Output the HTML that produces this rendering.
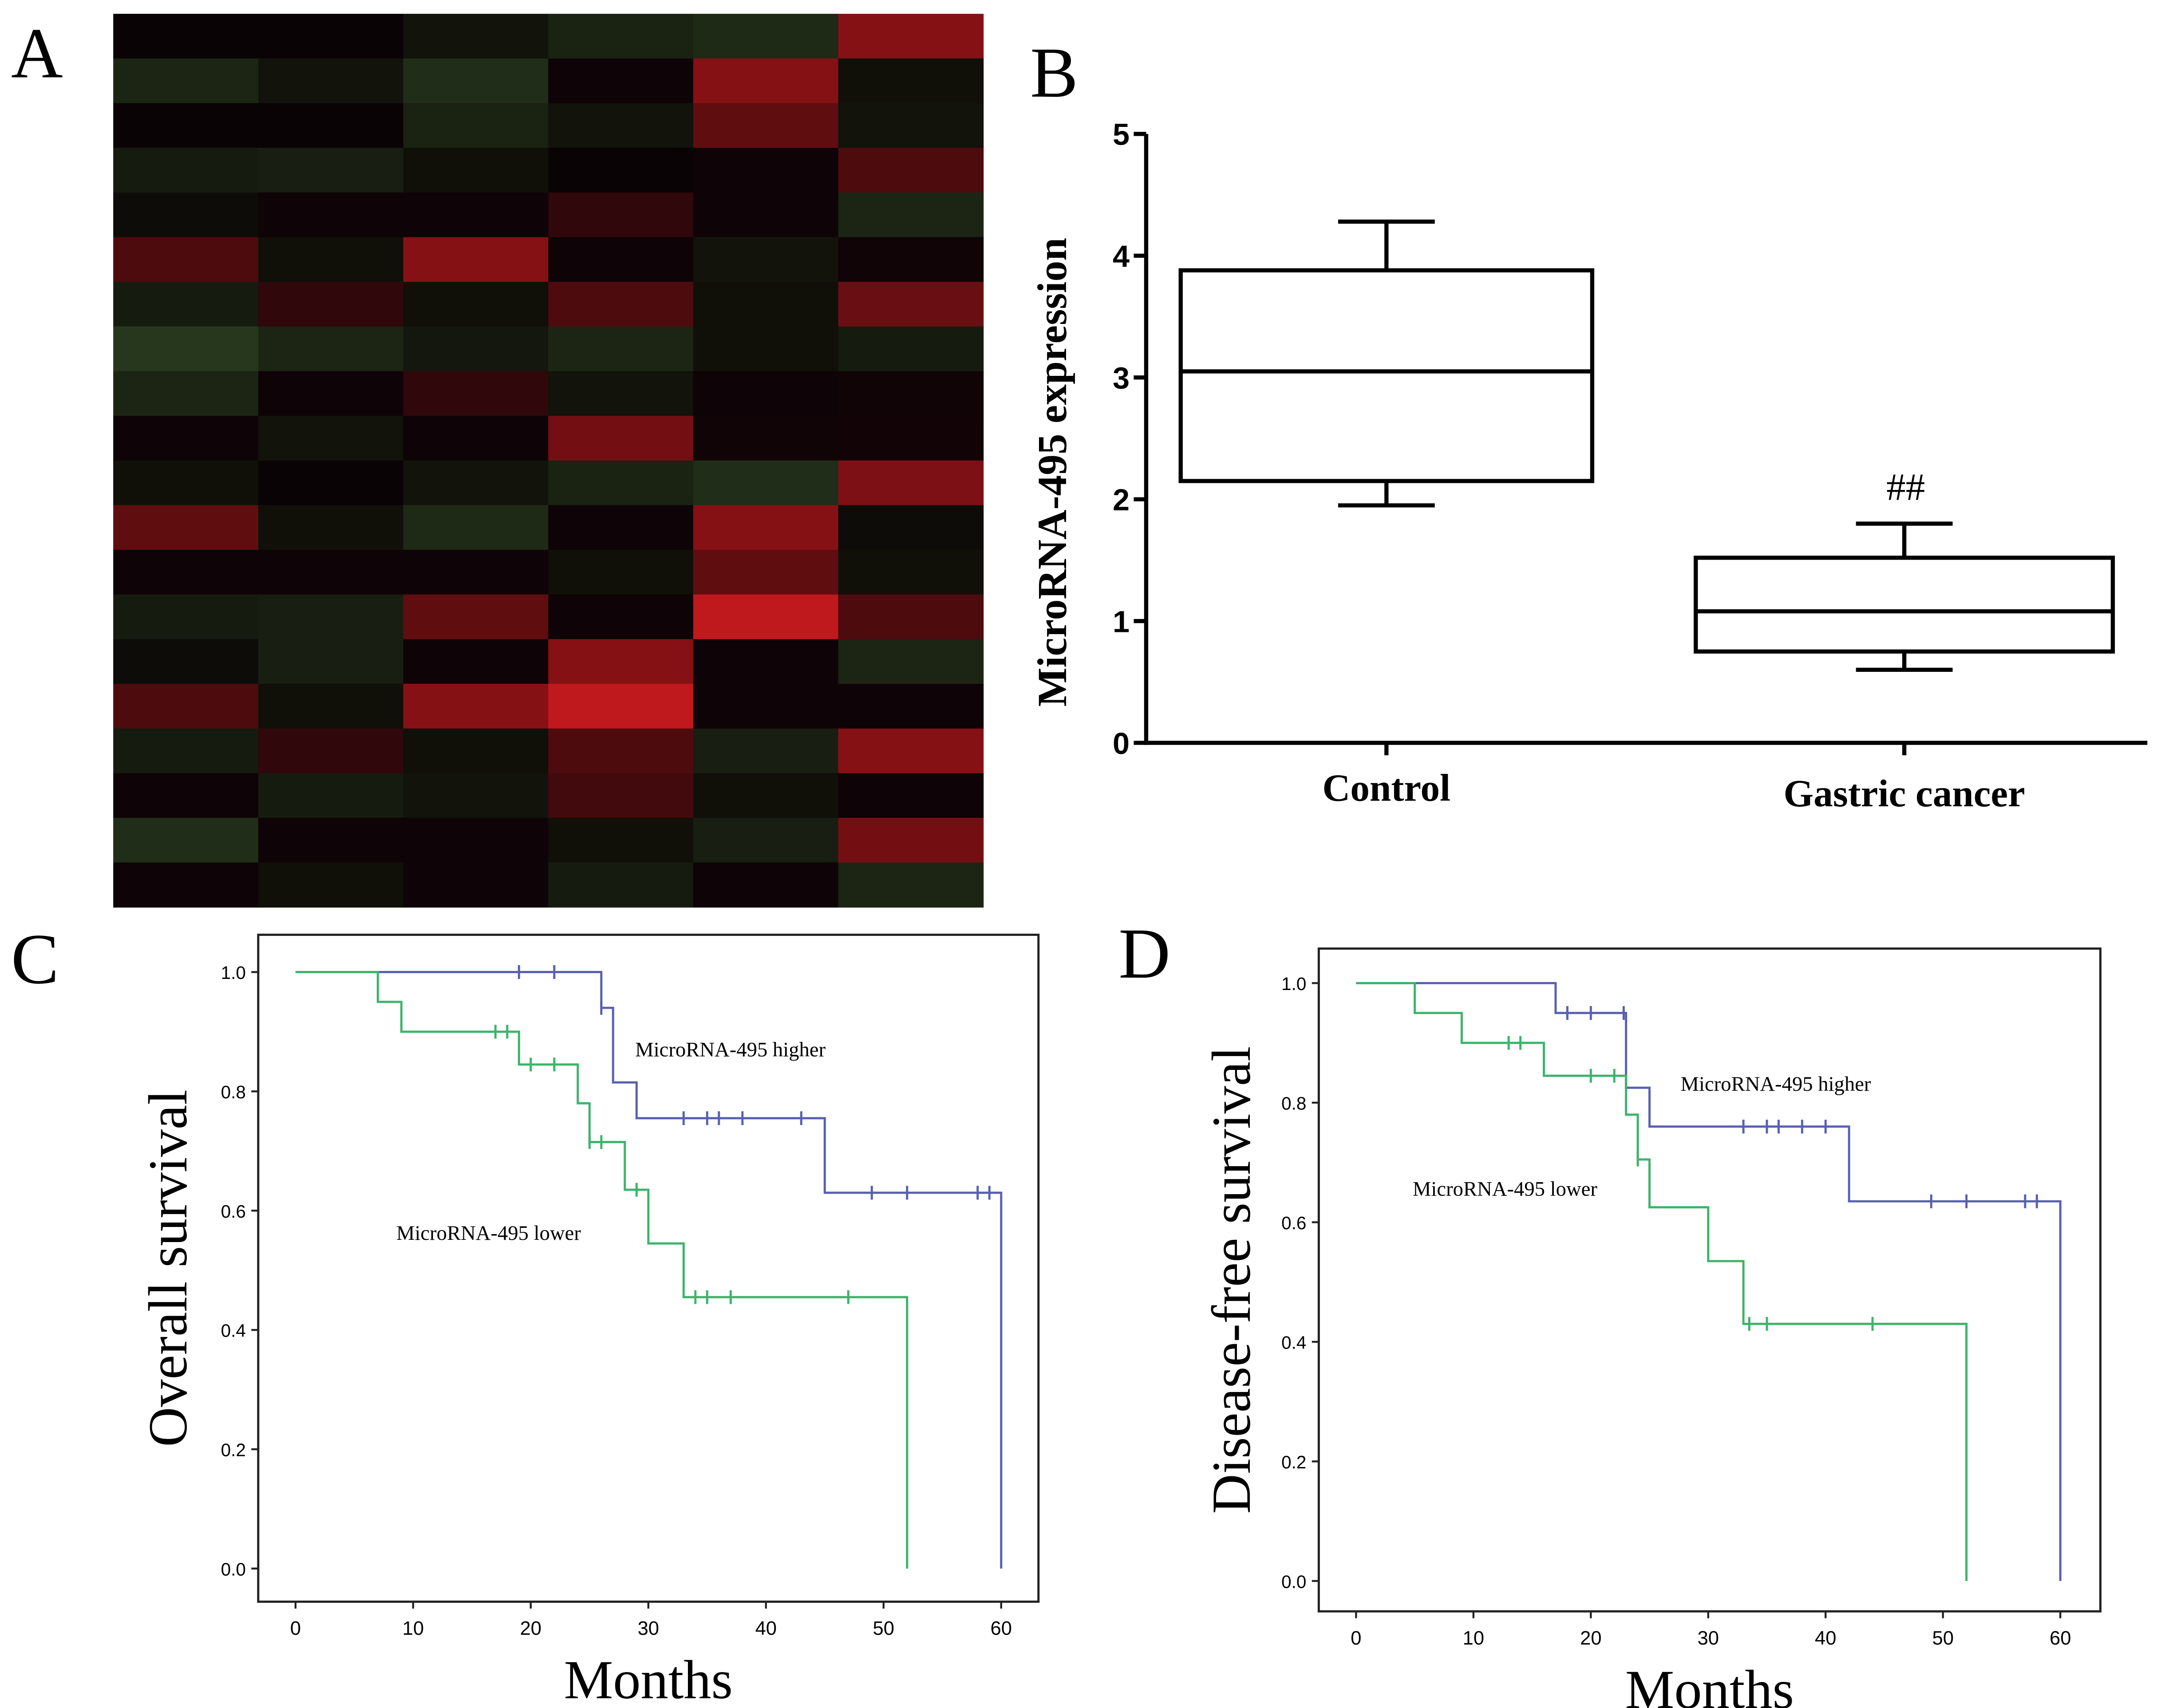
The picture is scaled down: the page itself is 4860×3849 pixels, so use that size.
<!DOCTYPE html>
<html><head><meta charset="utf-8"><style>
html,body{margin:0;padding:0;background:#fff;}
svg{display:block;}
</style></head><body>
<svg id="fig" width="4860" height="3849" viewBox="0 0 1562 1237" preserveAspectRatio="none" xmlns="http://www.w3.org/2000/svg">
<rect x="0" y="0" width="1562" height="1237" fill="#fff"/>
<g font-family="Liberation Serif, serif" font-size="52">
<text x="8" y="56">A</text>
<text x="746" y="70">B</text>
<text x="8" y="712">C</text>
<text x="810" y="708">D</text>
</g>
<g id="heat"></g>
<g id="boxB"></g>
<g id="kmC"></g>
<g id="kmD"></g>
</svg>
<script>
const NS='http://www.w3.org/2000/svg';
function mk(parent,tag,attrs,text){const e=document.createElementNS(NS,tag);for(const k in attrs)e.setAttribute(k,attrs[k]);if(text!==undefined)e.textContent=text;parent.appendChild(e);return e;}

// ---- Heatmap data (positive = red, negative = green) ----
const heatValues=[
[0,0,-0.2,-0.4,-0.5,0.65],
[-0.45,-0.2,-0.55,0.02,0.65,-0.15],
[0,0,-0.4,-0.2,0.45,-0.2],
[-0.3,-0.35,-0.15,0,0.02,0.35],
[-0.1,0.02,0.02,0.2,0.02,-0.45],
[0.35,-0.15,0.65,0.02,-0.2,0.03],
[-0.3,0.2,-0.15,0.35,-0.15,0.5],
[-0.7,-0.45,-0.25,-0.45,-0.15,-0.3],
[-0.45,0.02,0.2,-0.2,0.02,0.03],
[0.02,-0.2,0.02,0.55,0.03,0.04],
[-0.15,0,-0.2,-0.4,-0.55,0.6],
[0.45,-0.15,-0.5,0.02,0.65,-0.1],
[0.02,0.02,0.02,-0.15,0.45,-0.15],
[-0.3,-0.35,0.45,0.02,0.95,0.35],
[-0.1,-0.35,0.02,0.65,0.02,-0.45],
[0.35,-0.15,0.65,0.95,0.02,0.02],
[-0.3,0.2,-0.15,0.35,-0.35,0.65],
[0.02,-0.3,-0.2,0.3,-0.15,0.02],
[-0.55,0.02,0.02,-0.15,-0.35,0.55],
[0.02,-0.15,0.02,-0.3,0.02,-0.45]
];
(function(){
  const g=document.getElementById('heat');
  const x0=82,y0=10,w=630,h=647,nr=heatValues.length,nc=heatValues[0].length;
  const cw=w/nc,ch=h/nr;
  function col(v){
    if(v>=0){return `rgb(${Math.round(10+190*v)},${Math.round(3+22*v)},${Math.round(5+25*v)})`;}
    const a=-v;return `rgb(${Math.round(10+40*a)},${Math.round(5+72*a)},${Math.round(4+36*a)})`;
  }
  heatValues.forEach((row,r)=>row.forEach((v,c)=>{
    const el=mk(g,'rect',{x:x0+c*cw,y:y0+r*ch,width:cw+0.3,height:ch+0.3,fill:col(v)});
    
    
  }));
})();

// ---- Box plot data ----
const boxCategories=['Control','Gastric cancer'];
const boxMin=[1.95,0.6];
const boxQ1=[2.15,0.75];
const boxMedian=[3.05,1.08];
const boxQ3=[3.88,1.52];
const boxMax=[4.28,1.8];
const boxYTicks=[0,1,2,3,4,5];
(function(){
  const g=document.getElementById('boxB');
  const ax=830,yb=538,yt=97,xr=1555;
  const y=v=>yb-(v/5)*(yb-yt);
  const centers=[1004,1379],halfW=[149,151],cap=35;
  const s={stroke:'#000','stroke-width':3,fill:'none'};
  let e=mk(g,'line',{x1:ax,y1:yt,x2:ax,y2:yb+1.5,...s});
  e=mk(g,'line',{x1:ax-1.5,y1:yb,x2:xr,y2:yb,...s});
  boxYTicks.forEach(t=>{
    mk(g,'line',{x1:ax-9,y1:y(t),x2:ax,y2:y(t),...s});
    const l=mk(g,'text',{x:ax-12,y:y(t)+8,'text-anchor':'end','font-family':'Liberation Sans, sans-serif','font-weight':'bold','font-size':22},String(t));
    
  });
  boxCategories.forEach((c,i)=>{
    const cx=centers[i],hw=halfW[i];
    mk(g,'line',{x1:cx,y1:yb,x2:cx,y2:yb+9,...s});
    const b=mk(g,'rect',{x:cx-hw,y:y(boxQ3[i]),width:2*hw,height:y(boxQ1[i])-y(boxQ3[i]),...s});
    
    mk(g,'line',{x1:cx-hw,y1:y(boxMedian[i]),x2:cx+hw,y2:y(boxMedian[i]),...s});
    mk(g,'line',{x1:cx,y1:y(boxQ3[i]),x2:cx,y2:y(boxMax[i]),...s});
    mk(g,'line',{x1:cx,y1:y(boxQ1[i]),x2:cx,y2:y(boxMin[i]),...s});
    mk(g,'line',{x1:cx-cap,y1:y(boxMax[i]),x2:cx+cap,y2:y(boxMax[i]),...s});
    mk(g,'line',{x1:cx-cap,y1:y(boxMin[i]),x2:cx+cap,y2:y(boxMin[i]),...s});
    const l=mk(g,'text',{x:cx,y:i==0?580:584,'text-anchor':'middle','font-family':'Liberation Serif, serif','font-weight':'bold','font-size':28},c);
    
  });
  let t=mk(g,'text',{x:1380,y:362,'text-anchor':'middle','font-family':'Liberation Serif, serif','font-size':28},'##');
  
  t=mk(g,'text',{x:0,y:0,transform:'translate(772,342) rotate(-90)','text-anchor':'middle','font-family':'Liberation Serif, serif','font-weight':'bold','font-size':30},'MicroRNA-495 expression');
  
})();

// ---- Kaplan-Meier data ----
const cHighTimes=[26,27,29,45,60];
const cHighSurv=[0.94,0.815,0.755,0.63,0];
const cHighCensor=[19,22,26,33,35,36,38,43,49,52,58,59];
const cLowTimes=[7,9,19,24,25,28,30,33,52];
const cLowSurv=[0.95,0.90,0.845,0.78,0.715,0.635,0.545,0.455,0];
const cLowCensor=[17,18,20,22,25,26,29,34,35,37,47];
const dHighTimes=[17,23,25,42,60];
const dHighSurv=[0.95,0.825,0.76,0.635,0];
const dHighCensor=[18,20,22.8,33,35,36,38,40,49,52,57,58];
const dLowTimes=[5,9,16,23,24,25,30,33,52];
const dLowSurv=[0.95,0.90,0.845,0.78,0.705,0.625,0.535,0.43,0];
const dLowCensor=[13,14,20,22,24,33.5,35,44];
const kmXTicks=[0,10,20,30,40,50,60];
const kmYTicks=[0,0.2,0.4,0.6,0.8,1.0];

function km(id,box,xr,yr,series,labels,titleY,titleYx){
  const g=document.getElementById(id);
  const X=t=>xr[0]+t/60*(xr[1]-xr[0]);
  const Y=v=>yr[1]-v*(yr[1]-yr[0]);
  const fr=mk(g,'rect',{x:box[0],y:box[1],width:box[2]-box[0],height:box[3]-box[1],fill:'none',stroke:'#222','stroke-width':1.6});
  
  kmYTicks.forEach(v=>{
    mk(g,'line',{x1:box[0]-5,y1:Y(v),x2:box[0],y2:Y(v),stroke:'#222','stroke-width':1.4});
    const l=mk(g,'text',{x:box[0]-9,y:Y(v)+5,'text-anchor':'end','font-family':'Liberation Sans, sans-serif','font-size':13},v.toFixed(1));
    
  });
  kmXTicks.forEach(v=>{
    mk(g,'line',{x1:X(v),y1:box[3],x2:X(v),y2:box[3]+5,stroke:'#222','stroke-width':1.4});
    const l=mk(g,'text',{x:X(v),y:box[3]+24,'text-anchor':'middle','font-family':'Liberation Sans, sans-serif','font-size':14},String(v));
    
  });
  series.forEach(s=>{
    let d=`M${X(0)},${Y(1)}`;
    s.times.forEach((t,i)=>{d+=` H${X(t)} V${Y(s.surv[i])}`;});
    const p=mk(g,'path',{d:d,fill:'none',stroke:s.color,'stroke-width':1.6});
    
    s.censor.forEach(t=>{
      let v=1;s.times.forEach((tt,i)=>{if(tt<=t)v=s.surv[i];});
      const c=mk(g,'line',{x1:X(t),y1:Y(v)-5,x2:X(t),y2:Y(v)+5,stroke:s.color,'stroke-width':1.6});
      
    });
  });
  labels.forEach(l=>{
    const t=mk(g,'text',{x:l[1],y:l[2],'font-family':'Liberation Serif, serif','font-size':15},l[0]);
    
  });
  let t=mk(g,'text',{x:(box[0]+box[2])/2,y:box[3]+70,'text-anchor':'middle','font-family':'Liberation Serif, serif','font-size':40},'Months');
  
  t=mk(g,'text',{x:0,y:0,transform:`translate(${titleYx},${(box[1]+box[3])/2}) rotate(-90)`,'text-anchor':'middle','font-family':'Liberation Serif, serif','font-size':40},titleY);
  
}
const BLUE='#5860b0',GREEN='#3cb46a';
km('kmC',[187,677,752,1160],[214,725],[704,1136],
 [{name:'higher-curve',color:BLUE,times:cHighTimes,surv:cHighSurv,censor:cHighCensor},
  {name:'lower-curve',color:GREEN,times:cLowTimes,surv:cLowSurv,censor:cLowCensor}],
 [['MicroRNA-495 higher',460,765],['MicroRNA-495 lower',287,898]],'Overall survival',135);
km('kmD',[955,687,1521,1167],[982,1492],[712,1145],
 [{name:'higher-curve',color:BLUE,times:dHighTimes,surv:dHighSurv,censor:dHighCensor},
  {name:'lower-curve',color:GREEN,times:dLowTimes,surv:dLowSurv,censor:dLowCensor}],
 [['MicroRNA-495 higher',1217,790],['MicroRNA-495 lower',1023,866]],'Disease-free survival',905);
</script>
</body></html>
